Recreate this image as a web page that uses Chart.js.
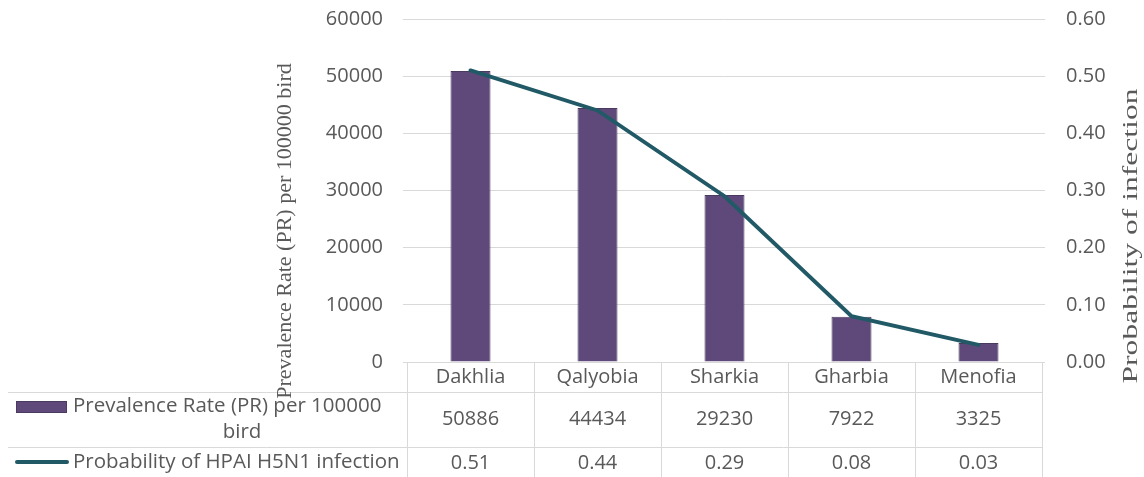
<!DOCTYPE html>
<html lang="en">
<head>
<meta charset="UTF-8" />
<title>Prevalence Rate and Probability of HPAI H5N1</title>
<script src="https://cdn.jsdelivr.net/npm/chart.js"></script>
<style>
  * { margin: 0; padding: 0; box-sizing: border-box; }
  body { background: #fff; width: 1144px; height: 477px; overflow: hidden; }
</style>
</head>
<body>
<canvas id="chart" width="1144" height="477"></canvas>
<script>
  const governorates = ['Dakhlia', 'Qalyobia', 'Sharkia', 'Gharbia', 'Menofia'];
  const prevalenceRate = [50886, 44434, 29230, 7922, 3325];
  const probability = [0.51, 0.44, 0.29, 0.08, 0.03];
  const prLabelLines = ['Prevalence Rate (PR) per 100000', 'bird'];
  const probLabel = 'Probability of HPAI H5N1 infection';
  const leftTitle = 'Prevalence Rate (PR) per 100000 bird';
  const rightTitle = 'Probability of infection';

  const barColor = '#5f497a', barBorder = '#4a3a60', lineColor = '#215a66';
  const textColor = '#595959', gridColor = '#d9d9d9';

  // data table under the plot + rotated axis titles
  const tablePlugin = {
    id: 'dataTable',
    afterDraw(chart) {
      const ctx = chart.ctx, x = chart.scales.x, area = chart.chartArea;
      const r0 = area.bottom, r1 = 392, r2 = 447, bottom = 477;
      const colW = (x.right - x.left) / governorates.length;
      ctx.save();
      ctx.strokeStyle = gridColor;
      ctx.lineWidth = 1;
      ctx.beginPath();
      ctx.moveTo(x.left, r0 + 0.5); ctx.lineTo(x.right, r0 + 0.5);
      ctx.moveTo(8, r1 + 0.5); ctx.lineTo(x.right, r1 + 0.5);
      ctx.moveTo(8, r2 + 0.5); ctx.lineTo(x.right, r2 + 0.5);
      for (let i = 0; i <= governorates.length; i++) {
        const px = Math.round(x.left + i * colW) + 0.5;
        ctx.moveTo(px, r0); ctx.lineTo(px, bottom);
      }
      ctx.stroke();

      ctx.fillStyle = textColor;
      ctx.textAlign = 'center';
      ctx.textBaseline = 'middle';
      ctx.font = '20px "Open Sans"';
      governorates.forEach((g, i) => {
        const cx = x.getPixelForValue(i);
        ctx.fillText(g, cx, (r0 + r1) / 2);
        ctx.fillText(String(prevalenceRate[i]), cx, (r1 + r2) / 2);
        ctx.fillText(probability[i].toFixed(2), cx, (r2 + bottom) / 2 + 1);
      });

      // legend keys
      ctx.fillStyle = barColor;
      ctx.strokeStyle = barBorder;
      ctx.fillRect(16, 401, 51, 12);
      ctx.strokeRect(16.5, 401.5, 50, 11);
      ctx.strokeStyle = lineColor;
      ctx.lineWidth = 4;
      ctx.lineCap = 'round';
      ctx.beginPath();
      ctx.moveTo(17, 462); ctx.lineTo(67, 462);
      ctx.stroke();

      ctx.fillStyle = textColor;
      ctx.font = '20.5px "Open Sans"';
      ctx.textAlign = 'left';
      ctx.fillText(prLabelLines[0], 73, 406);
      ctx.textAlign = 'center';
      ctx.fillText(prLabelLines[1], 242, 432);
      ctx.textAlign = 'left';
      ctx.fillText(probLabel, 73, 462);

      // axis titles
      ctx.textAlign = 'center';
      ctx.font = '22px "Liberation Serif"';
      ctx.translate(285, 231);
      ctx.rotate(-Math.PI / 2);
      ctx.fillText(leftTitle, 0, 0);
      ctx.setTransform(1, 0, 0, 1, 0, 0);
      const rw = ctx.measureText(rightTitle).width;
      ctx.translate(1131, 236);
      ctx.rotate(-Math.PI / 2);
      ctx.scale(295 / rw, 1);
      ctx.fillText(rightTitle, 0, 0);
      ctx.restore();
    }
  };

  new Chart(document.getElementById('chart'), {
    data: {
      labels: governorates,
      datasets: [
        {
          type: 'line', label: probLabel, data: probability, yAxisID: 'y1', order: 0,
          borderColor: lineColor, borderWidth: 4, pointRadius: 0, tension: 0, borderCapStyle: 'round'
        },
        {
          type: 'bar', label: prLabelLines.join(' '), data: prevalenceRate, yAxisID: 'y', order: 1,
          backgroundColor: barColor, borderColor: barBorder, borderWidth: 1,
          barPercentage: 0.315, categoryPercentage: 1
        }
      ]
    },
    options: {
      responsive: false,
      animation: false,
      layout: { padding: { top: 19, bottom: 115, left: 0, right: 0 } },
      plugins: { legend: { display: false }, tooltip: { enabled: false } },
      scales: {
        x: { display: false, offset: true },
        y: {
          position: 'left', min: 0, max: 60000,
          ticks: { stepSize: 10000, color: textColor, padding: 20, font: { family: 'Open Sans', size: 20 },
                   callback: v => String(v) },
          grid: { color: gridColor, tickLength: 4 },
          border: { display: false },
          afterFit(scale) { scale.width = 407; scale.paddingTop = 0; scale.paddingBottom = 0; }
        },
        y1: {
          position: 'right', min: 0, max: 0.6,
          ticks: { stepSize: 0.1, color: textColor, padding: 21, font: { family: 'Open Sans', size: 20 },
                   callback: v => v.toFixed(2) },
          grid: { drawOnChartArea: false, color: gridColor, tickLength: 3 },
          border: { display: false },
          afterFit(scale) { scale.width = 102; scale.paddingTop = 0; scale.paddingBottom = 0; }
        }
      }
    },
    plugins: [tablePlugin]
  });
</script>
</body>
</html>
